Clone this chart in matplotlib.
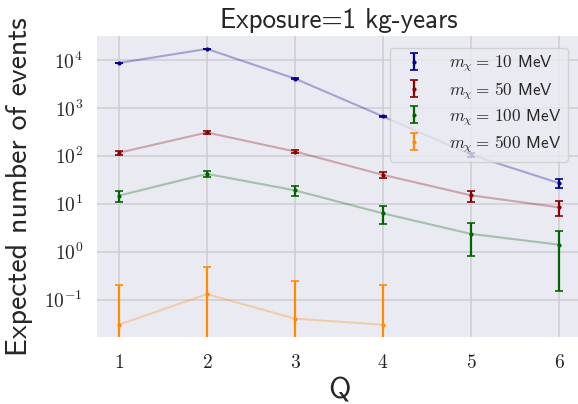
import numpy as np
import matplotlib
matplotlib.use("Agg")
import matplotlib.pyplot as plt
from matplotlib.ticker import FuncFormatter, FixedLocator, NullLocator

# ---- data ----
Q = [1, 2, 3, 4, 5, 6]
Q_500 = [1, 2, 3, 4]

n_10 = [8650, 17000, 4080, 664, 105, 27]
err_10 = [93, 130, 64, 26, 10.3, 5.2]

n_50 = [116, 307, 123, 40, 15, 8.4]
err_50 = [10.8, 17.5, 11.1, 6.3, 3.9, 2.9]

n_100 = [14.8, 42, 19, 6.3, 2.35, 1.4]
err_100 = [3.85, 6.5, 4.4, 2.5, 1.53, 1.25]

n_500 = [0.03, 0.13, 0.04, 0.03]
err_500 = [0.17, 0.36, 0.2, 0.17]

labels = [r"$m_\chi =\, 10$ MeV", r"$m_\chi =\, 50$ MeV",
          r"$m_\chi =\, 100$ MeV", r"$m_\chi =\, 500$ MeV"]
colors = ["darkblue", "darkred", "darkgreen", "darkorange"]

plt.rcParams.update({
    "font.family": "cmss10",
    "mathtext.fontset": "cm",
    "axes.unicode_minus": False,
    "axes.facecolor": "#EAEAF2",
    "axes.edgecolor": "white",
    "text.color": ".15",
    "axes.labelcolor": ".15",
    "xtick.color": ".15",
    "ytick.color": ".15",
})

fig = plt.figure(figsize=(5.78, 4.04), dpi=100)
ax = fig.add_axes([97 / 578, 1 - 337 / 404, (581 - 97) / 578, (337 - 36) / 404])
ax.set_yscale("log")

series = [(Q, n_10, err_10), (Q, n_50, err_50), (Q, n_100, err_100), (Q_500, n_500, err_500)]
for (x, y, e), c, lab in zip(series, colors, labels):
    ax.plot(x, y, color=c, alpha=0.3, lw=1.5)
    ax.errorbar(x, y, yerr=e, fmt=".", color=c, ms=4, capsize=2.7,
                elinewidth=1.6, capthick=1.2, label=lab)

ax.set_xlim(0.75, 6.25)
ax.set_ylim(10 ** -1.78, 10 ** 4.5)

ax.xaxis.set_major_locator(FixedLocator(Q))
ax.xaxis.set_major_formatter(FuncFormatter(lambda v, p: r"$%d$" % round(v)))
ax.yaxis.set_major_locator(FixedLocator([1e-1, 1e0, 1e1, 1e2, 1e3, 1e4]))
ax.yaxis.set_minor_locator(NullLocator())
ax.yaxis.set_major_formatter(FuncFormatter(lambda v, p: r"$10^{%d}$" % round(np.log10(v))))
ax.tick_params(axis="both", which="both", length=0, labelsize=14)
ax.tick_params(axis="x", pad=12)
ax.tick_params(axis="y", pad=10)

ax.grid(True, color="#cfcfd4", lw=1.2)
ax.set_axisbelow(True)
for s in ax.spines.values():
    s.set_visible(False)

ax.set_xlabel("Q", fontsize=22, labelpad=4)
ax.set_ylabel("Expected number of events", fontsize=21.5, labelpad=8)
ax.set_title("Exposure=1 kg-years", fontsize=19.5, pad=6)

leg = ax.legend(loc="upper right", fontsize=12.3, framealpha=0.8,
                edgecolor="0.8", bbox_to_anchor=(0.99, 0.99),
                labelspacing=0.35, handletextpad=1.0)

fig.savefig("out.png", dpi=100)
